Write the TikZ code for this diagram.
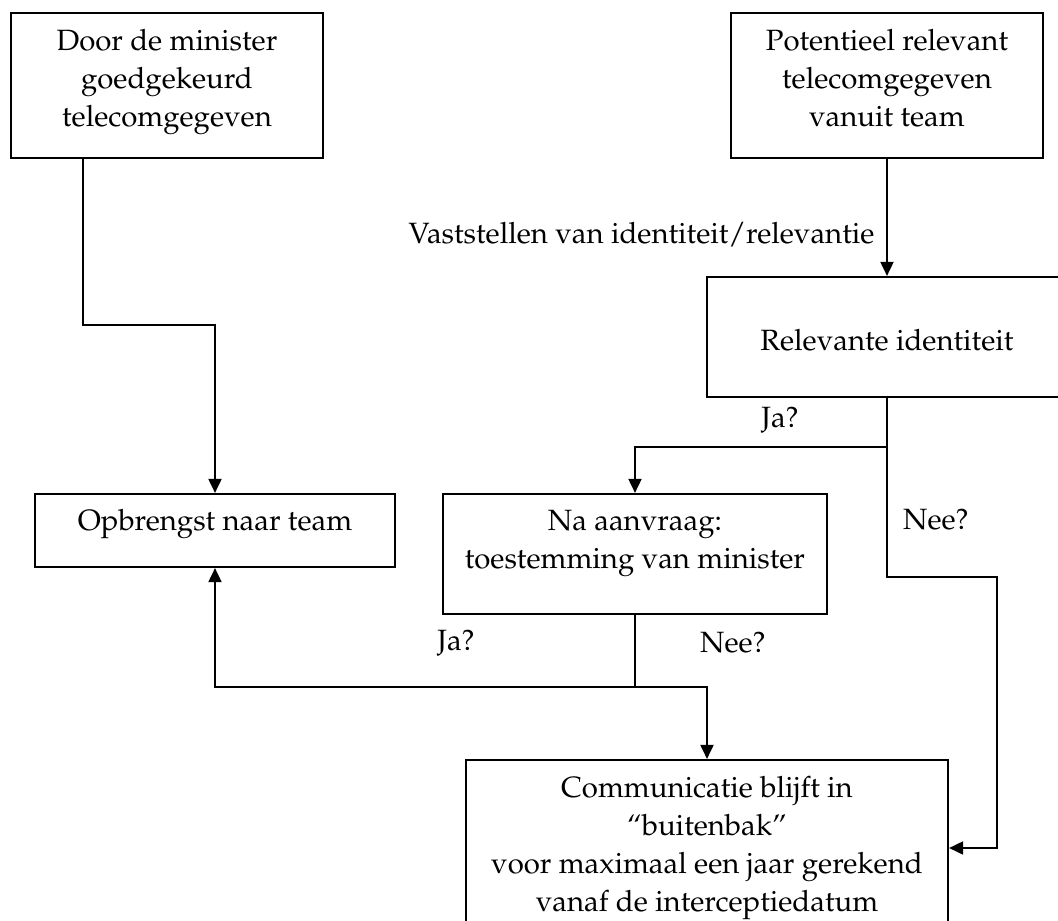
\documentclass[tikz,border=0pt]{standalone}
\usepackage[T1]{fontenc}
\usepackage{mathpazo}
\usetikzlibrary{arrows.meta}
\newcommand{\bx}[4]{\parbox[c][#2][t]{#1}{\vspace*{#3}\centering #4\par}}
\begin{document}
\begin{tikzpicture}[x=0.368pt,y=-0.368pt,
  box/.style={draw,line width=0.75pt,inner sep=0pt,font=\fontsize{10.8}{14}\selectfont},
  conn/.style={line width=0.75pt},
  arr/.style={conn,-{Triangle[length=5.2pt,width=4.8pt]}},
  lbl/.style={font=\fontsize{10.8}{14}\selectfont,inner sep=0pt}]
\useasboundingbox (0,0) rectangle (1058,921);
\clip (0,0) rectangle (1058,921);
\node[box] (b1) at (167,85.5) {\bx{114.8pt}{53.4pt}{6.1pt}{Door de minister\\goedgekeurd\\telecomgegeven}};
\node[box] (b2) at (887,85.5) {\bx{114.8pt}{53.4pt}{6.1pt}{Potentieel relevant\\telecomgegeven\\vanuit team}};
\node[box] (rel) at (887,337) {\bx{132.5pt}{44.2pt}{19.4pt}{Relevante identiteit}};
\node[box] (op) at (215,530.5) {\bx{132.5pt}{26.9pt}{5.8pt}{Opbrengst naar team}};
\node[box] (na) at (635,554) {\bx{141.3pt}{44.2pt}{5.8pt}{Na aanvraag:\\toestemming van minister}};
\node[box] (comm) at (707,852.5) {\bx{177.4pt}{68.1pt}{6.1pt}{Communicatie blijft in\\``buitenbak''\\voor maximaal een jaar gerekend\\vanaf de interceptiedatum}};
\coordinate (c1) at (83,325);
\coordinate (j1) at (887,447);
\coordinate (n1) at (997,577);
\coordinate (n2) at (997,848);
\coordinate (j2) at (635,687);
\draw[arr] (c1 |- b1.south) -- (c1) -| (op.north);
\draw[arr] (b2.south) -- (rel.north);
\node[lbl,anchor=east] (vl) at (875,235) {Vaststellen van identiteit/relevantie};
\draw[arr] (rel.south) -- (j1) -| (na.north);
\draw[arr] (j1) |- (n1) -- (n2) -- (n2 -| comm.east);
\draw[arr] (na.south) -- (j2) -| (op.south);
\draw[arr] (j2) -| (comm.north);
\node[lbl] (ja1) at (780,420) {Ja?};
\node[lbl] (nee1) at (936,520) {Nee?};
\node[lbl] (ja2) at (456,643) {Ja?};
\node[lbl] (nee2) at (733,643) {Nee?};
\end{tikzpicture}
\end{document}
